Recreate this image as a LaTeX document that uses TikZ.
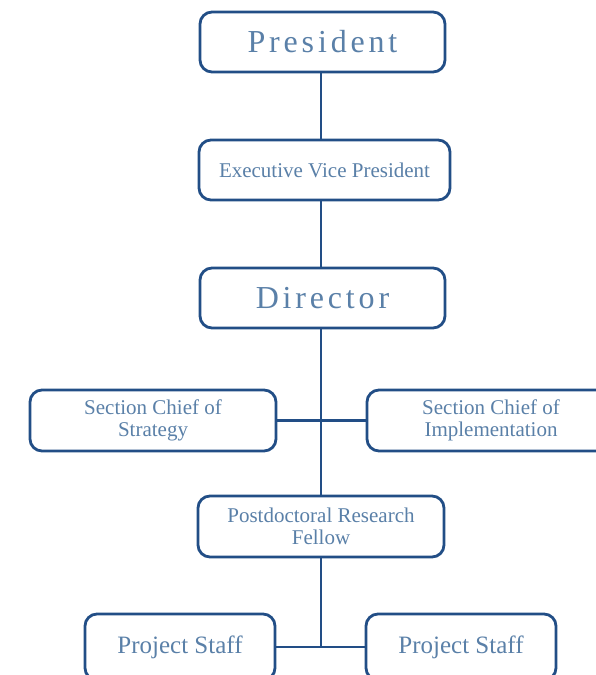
\documentclass[tikz,border=0pt]{standalone}
\usepackage{fontspec}
\setmainfont{Liberation Serif}
\definecolor{boxline}{HTML}{224E86}
\definecolor{boxtext}{HTML}{5A80A8}
\begin{document}
\begin{tikzpicture}[x=1pt,y=-1pt,
  orgbox/.style={draw=boxline, line width=2.8pt, rounded corners=12pt, fill=white,
    text=boxtext, align=center, inner sep=0pt},
  bigtext/.style={font=\fontsize{32}{36}\selectfont\addfontfeature{LetterSpace=12}},
  smalltext/.style={font=\fontsize{21}{22}\selectfont},
  stafftext/.style={font=\fontsize{25}{28}\selectfont},
  link/.style={draw=boxline, line width=2.8pt}]
\useasboundingbox (0,0) rectangle (595,675);
\coordinate (spine) at (321,0);
\node[orgbox, bigtext, minimum width=245pt, minimum height=60pt] (pres) at (322.5,42) {President};
\node[orgbox, smalltext, minimum width=251pt, minimum height=60pt] (evp) at (324.5,170) {Executive Vice President};
\node[orgbox, bigtext, minimum width=245pt, minimum height=60pt] (dir) at (322.5,298) {Director};
\node[orgbox, smalltext, minimum width=246pt, minimum height=61pt] (sc1) at (153,420.5) {Section Chief of\\Strategy};
\node[orgbox, smalltext, minimum width=248pt, minimum height=61pt] (sc2) at (491,420.5) {Section Chief of\\Implementation};
\node[orgbox, smalltext, minimum width=246pt, minimum height=61pt] (post) at (321,526.5) {Postdoctoral Research\\Fellow};
\node[orgbox, stafftext, minimum width=190pt, minimum height=66pt] (ps1) at (180,647) {Project Staff};
\node[orgbox, stafftext, minimum width=190pt, minimum height=66pt] (ps2) at (461,647) {Project Staff};
\coordinate (j) at (spine |- ps1.east);
\draw[link] (pres.south -| spine) -- (evp.north -| spine);
\draw[link] (evp.south -| spine) -- (dir.north -| spine);
\draw[link] (dir.south -| spine) -- (post.north -| spine);
\draw[link] (sc1.east) -- (sc2.west);
\draw[link] (post.south -| spine) -- (j);
\draw[link] (ps1.east) -- (ps2.west);
\end{tikzpicture}
\end{document}
